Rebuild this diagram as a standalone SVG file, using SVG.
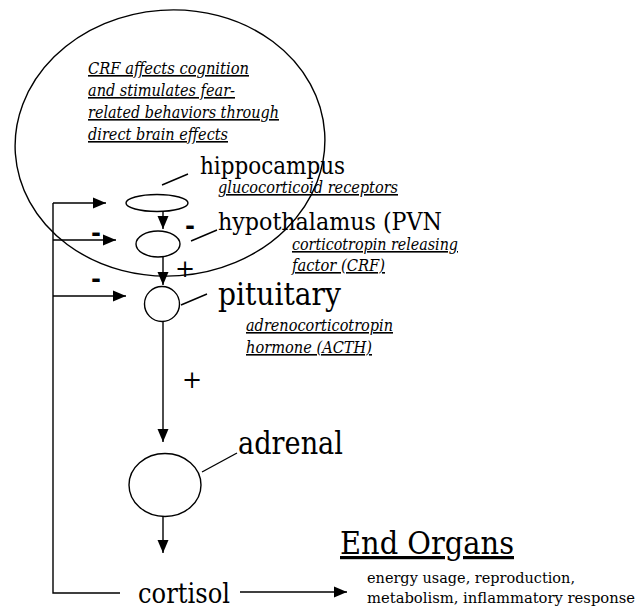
<svg xmlns="http://www.w3.org/2000/svg" width="643" height="609" viewBox="0 0 643 609">
<style>
  .ln { stroke: #000; stroke-width: 1.4; fill: none; }
  .shape { stroke: #000; stroke-width: 1.4; fill: none; }
  text { font-family: "DejaVu Serif", "Liberation Serif", serif; fill: #000; }
  .big { font-size: 24px; }
  .it { font-size: 16px; font-style: italic; text-decoration: underline; }
  .sign { font-size: 24px; }
  .minus { font-size: 26px; font-weight: bold; }
</style>
<defs>
  <marker id="ah" markerWidth="14" markerHeight="12" refX="13" refY="6" orient="auto" markerUnits="userSpaceOnUse">
    <path d="M0,0.5 L13,6 L0,11.5 Z" fill="#000"/>
  </marker>
</defs>

<g id="brain">
  <ellipse class="shape" cx="170" cy="143" rx="155" ry="133" transform="rotate(-4 170 143)"/>
  <text class="it" x="88" y="74" textLength="161" lengthAdjust="spacingAndGlyphs">CRF affects cognition</text>
  <text class="it" x="88" y="96" textLength="147" lengthAdjust="spacingAndGlyphs">and stimulates fear-</text>
  <text class="it" x="88" y="118" textLength="191" lengthAdjust="spacingAndGlyphs">related behaviors through</text>
  <text class="it" x="88" y="140" textLength="140" lengthAdjust="spacingAndGlyphs">direct brain effects</text>
</g>

<g id="hippocampus">
  <ellipse class="shape" cx="157" cy="203" rx="31" ry="8.5"/>
  <line class="ln" x1="162" y1="185" x2="188" y2="174"/>
  <text class="big" x="200" y="174" textLength="145" lengthAdjust="spacingAndGlyphs">hippocampus</text>
  <text class="it" x="218" y="193" textLength="180" lengthAdjust="spacingAndGlyphs">glucocorticoid receptors</text>
</g>

<g id="hypothalamus">
  <ellipse class="shape" cx="158" cy="244" rx="22" ry="13"/>
  <line class="ln" x1="191" y1="241" x2="217" y2="230"/>
  <text class="big" x="218" y="230" textLength="224" lengthAdjust="spacingAndGlyphs">hypothalamus (PVN</text>
  <text class="it" x="292" y="250" textLength="166" lengthAdjust="spacingAndGlyphs">corticotropin releasing</text>
  <text class="it" x="292" y="271" textLength="93" lengthAdjust="spacingAndGlyphs">factor (CRF)</text>
</g>

<g id="pituitary">
  <circle class="shape" cx="162" cy="304" r="17.5"/>
  <line class="ln" x1="181" y1="305" x2="207" y2="294"/>
  <text x="218" y="305" font-size="32" textLength="123" lengthAdjust="spacingAndGlyphs">pituitary</text>
  <text class="it" x="246" y="331" textLength="147" lengthAdjust="spacingAndGlyphs">adrenocorticotropin</text>
  <text class="it" x="246" y="353" textLength="126" lengthAdjust="spacingAndGlyphs">hormone (ACTH)</text>
</g>

<g id="adrenal">
  <ellipse class="shape" cx="165" cy="485" rx="36" ry="31.5"/>
  <line class="ln" x1="202" y1="472" x2="237" y2="453"/>
  <text x="238" y="454" font-size="31" textLength="105" lengthAdjust="spacingAndGlyphs">adrenal</text>
</g>

<g id="cortisol">
  <text x="138" y="603" font-size="27" textLength="92" lengthAdjust="spacingAndGlyphs">cortisol</text>
</g>

<g id="end-organs">
  <text x="340" y="554" font-size="32" text-decoration="underline" textLength="174" lengthAdjust="spacingAndGlyphs">End Organs</text>
  <text x="367" y="583" font-size="15" textLength="208" lengthAdjust="spacingAndGlyphs">energy usage, reproduction,</text>
  <text x="367" y="603" font-size="15" textLength="268" lengthAdjust="spacingAndGlyphs">metabolism, inflammatory response</text>
</g>

<g id="connectors">
  <line class="ln" x1="163" y1="212" x2="163" y2="229" marker-end="url(#ah)"/>
  <line class="ln" x1="163" y1="257" x2="163" y2="285" marker-end="url(#ah)"/>
  <line class="ln" x1="163" y1="322" x2="163" y2="442" marker-end="url(#ah)"/>
  <line class="ln" x1="163" y1="517" x2="163" y2="553" marker-end="url(#ah)"/>
  <line class="ln" x1="240" y1="592" x2="347" y2="592" marker-end="url(#ah)"/>
  <polyline class="ln" points="120,593 53,593 53,203"/>
  <line class="ln" x1="53" y1="203" x2="106" y2="203" marker-end="url(#ah)"/>
  <line class="ln" x1="53" y1="240" x2="116" y2="240" marker-end="url(#ah)"/>
  <line class="ln" x1="53" y1="296" x2="126" y2="296" marker-end="url(#ah)"/>
  <text class="minus" x="91" y="241" textLength="10" lengthAdjust="spacingAndGlyphs">-</text>
  <text class="minus" x="91" y="287" textLength="10" lengthAdjust="spacingAndGlyphs">-</text>
  <text class="minus" x="185" y="234" textLength="10" lengthAdjust="spacingAndGlyphs">-</text>
  <text class="sign" x="185" y="277" text-anchor="middle">+</text>
  <text class="sign" x="192" y="388" text-anchor="middle">+</text>
</g>
</svg>
